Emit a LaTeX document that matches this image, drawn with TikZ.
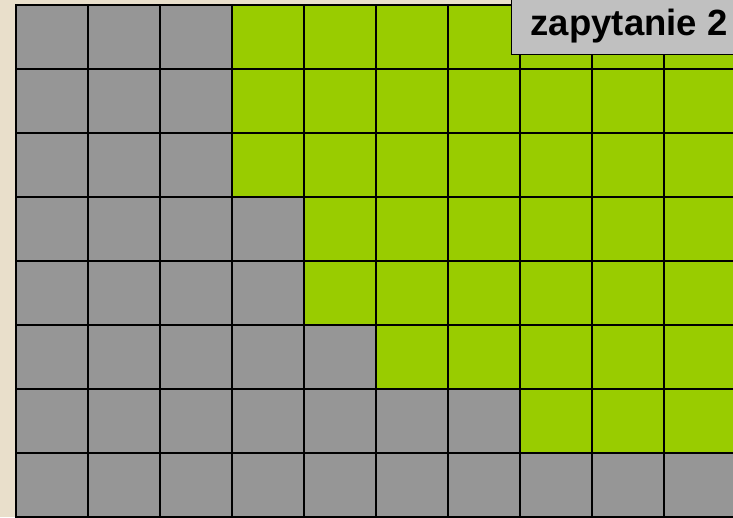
\documentclass[tikz,border=0pt]{standalone}
\usepackage{fontspec}
\setmainfont{Liberation Sans}
\definecolor{paper}{HTML}{E9DFCB}
\definecolor{cellgrey}{HTML}{969696}
\definecolor{cellgreen}{HTML}{99CC00}
\definecolor{tabgrey}{HTML}{C0C0C0}

\begin{document}
\begin{tikzpicture}[x=1pt, y=-1pt,
  every node/.style={font=\bfseries\fontsize{36.5}{40}\selectfont},
  cell/.style={draw=black, line width=2.6pt},
  tab/.style={draw=black, line width=1.4pt, fill=tabgrey, inner xsep=19pt, inner ysep=12pt}]
  \fill[paper] (0,0) rectangle (733,517);
  \useasboundingbox (0,0) rectangle (733,517);
  \clip (0,0) rectangle (733,517);
  % row / first green column
  \foreach \r/\g in {0/3,1/3,2/3,3/4,4/4,5/5,6/7,7/10} {
    \foreach \c in {0,...,9} {
      \ifnum\c<\g \def\cellcol{cellgrey}\else\def\cellcol{cellgreen}\fi
      \draw[cell, fill=\cellcol] ({16+72*\c},{5+64*\r}) rectangle +(72,64);
    }
  }
  \node[tab, anchor=base west] (query) at (511,35) {zapytanie 2};
\end{tikzpicture}
\end{document}
